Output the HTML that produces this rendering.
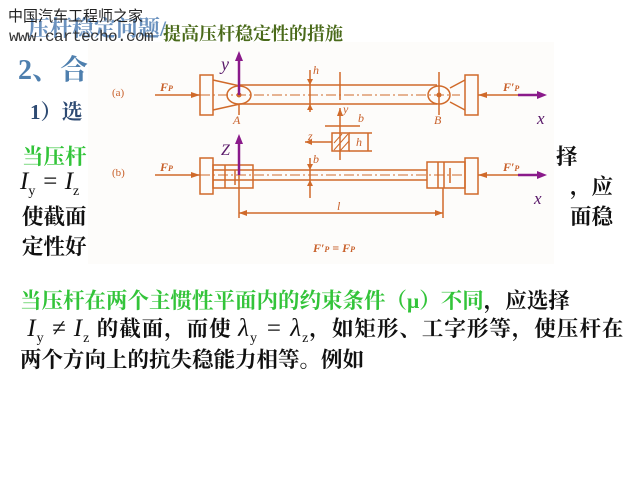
<!DOCTYPE html>
<html><head><meta charset="utf-8"><style>
body{margin:0;width:640px;height:480px;background:#fff;position:relative;overflow:hidden;font-family:"Liberation Serif","Noto Serif CJK SC",serif}
.t{position:absolute;white-space:nowrap;font-weight:bold;color:#111}
.g{color:#33c43a}
.m{font-family:"Liberation Serif",serif;font-style:italic;font-weight:normal}
sub{font-size:14px;font-style:normal}
</style></head><body>
<div class="t" style="left:28px;top:12px;font-size:22px;color:#5a86b8;opacity:.9">压杆稳定问题/</div>
<div class="t" style="left:163px;top:20px;font-size:18px;color:#4a6a1a">提高压杆稳定性的措施</div>
<div class="t" style="left:8px;top:5px;font-size:15px;color:#222;font-family:'Noto Sans CJK SC',sans-serif;font-weight:normal">中国汽车工程师之家</div>
<div class="t" style="left:9px;top:28px;font-size:16px;color:#333;font-family:'Liberation Mono',monospace;font-weight:normal;letter-spacing:-0.6px">www.cartecho.com</div>
<div class="t" style="left:18px;top:48px;font-size:28px;color:#4e7fae">2、合</div>
<div class="t" style="left:30px;top:96px;font-size:21px;color:#2d4a72">1）选</div>

<div class="t g" style="left:22px;top:140px;font-size:21.5px">当压杆</div>
<div class="t m" style="left:20px;top:168px;font-size:25px;color:#111">I<sub>y</sub> = I<sub>z</sub></div>
<div class="t" style="left:22px;top:200px;font-size:21.5px">使截面</div>
<div class="t" style="left:22px;top:230px;font-size:21.5px">定性好</div>
<div class="t" style="left:556px;top:140px;font-size:21.5px">择</div>
<div class="t" style="left:570px;top:170px;font-size:21.5px">，应</div>
<div class="t" style="left:570px;top:200px;font-size:21.5px">面稳</div>

<svg style="position:absolute;left:88px;top:42px" width="466" height="222" viewBox="88 42 466 222">
<rect x="88" y="42" width="466" height="222" fill="#fdfcfa"/>
<g stroke="#d06a2a" stroke-width="1.5" fill="none">
<rect x="200" y="75" width="13" height="40"/>
<path d="M213 80 L240 86 M213 110 L240 104"/>
<ellipse cx="239" cy="95" rx="12" ry="9"/>
<line x1="240" y1="85" x2="437" y2="85"/><line x1="240" y1="104" x2="437" y2="104"/>
<line x1="200" y1="95" x2="460" y2="95" stroke-dasharray="10,3,2,3" stroke-width="1"/>
<ellipse cx="439" cy="95" rx="11" ry="9"/>
<path d="M450 88 L465 80 M450 102 L465 110"/>
<rect x="465" y="75" width="13" height="40"/>
<line x1="155" y1="95" x2="200" y2="95"/>
<line x1="478" y1="95" x2="520" y2="95"/>
<line x1="239" y1="104" x2="239" y2="115"/><line x1="439" y1="72" x2="439" y2="115"/>
<line x1="310" y1="70" x2="310" y2="112"/><line x1="340" y1="72" x2="340" y2="100"/>
<rect x="332" y="133" width="17" height="18"/>
<path d="M334 143l8-9M334 150l14-16M340 151l9-10" stroke-width="1"/>
<line x1="340" y1="108" x2="340" y2="160"/>
<line x1="305" y1="142" x2="332" y2="142"/>
<line x1="325" y1="126" x2="360" y2="126"/>
<line x1="349" y1="133" x2="372" y2="133"/><line x1="349" y1="151" x2="372" y2="151"/>
<line x1="368" y1="133" x2="368" y2="151"/>
<rect x="200" y="158" width="13" height="36"/>
<rect x="213" y="165" width="40" height="23"/>
<line x1="225" y1="165" x2="225" y2="188"/><line x1="235" y1="170" x2="235" y2="185"/>
<line x1="253" y1="170" x2="427" y2="170"/><line x1="253" y1="180" x2="427" y2="180"/>
<line x1="213" y1="170" x2="253" y2="170"/><line x1="213" y1="180" x2="253" y2="180"/>
<line x1="200" y1="175" x2="465" y2="175" stroke-dasharray="10,3,2,3" stroke-width="1"/>
<rect x="427" y="162" width="38" height="26"/>
<line x1="438" y1="162" x2="438" y2="188"/><line x1="444" y1="162" x2="444" y2="188"/><line x1="450" y1="168" x2="450" y2="183"/>
<rect x="465" y="158" width="13" height="36"/>
<line x1="155" y1="175" x2="200" y2="175"/>
<line x1="478" y1="175" x2="520" y2="175"/>
<line x1="310" y1="158" x2="310" y2="198"/>
<line x1="239" y1="170" x2="239" y2="218"/><line x1="443" y1="188" x2="443" y2="218"/>
<line x1="239" y1="213" x2="443" y2="213"/>
</g>
<g fill="#d06a2a">
<path d="M200 95l-9-3v6z M478 95l9-3v6z M200 175l-9-3v6z M478 175l9-3v6z M239 213l8-3v6z M443 213l-8-3v6z M340 108l-3 8h6z M305 142l7-3v6z M310 85l-3-6h6z M310 104l-3 6h6z M310 170l-3-6h6z M310 180l-3 6h6z"/>
<circle cx="239" cy="95" r="2.5"/><circle cx="439" cy="95" r="2.5"/>
</g>
<g stroke="#8a1a8a" stroke-width="2.5"><line x1="239" y1="95" x2="239" y2="58"/><line x1="239" y1="175" x2="239" y2="140"/><line x1="518" y1="95" x2="540" y2="95"/><line x1="518" y1="175" x2="540" y2="175"/></g>
<g fill="#8a1a8a"><path d="M239 51l-4 10h8z M239 134l-4 10h8z M547 95l-10-4v8z M547 175l-10-4v8z"/></g>
<g font-family="Liberation Serif,serif" font-style="italic">
<text x="221" y="70" font-size="18" fill="#5a1a6a">y</text>
<text x="221" y="155" font-size="16" fill="#5a1a6a">Z</text>
<text x="537" y="124" font-size="17" fill="#5a1a6a">x</text>
<text x="534" y="204" font-size="17" fill="#5a1a6a">x</text>
<g fill="#c8602a" font-size="12" font-weight="bold">
<text x="160" y="91">F<tspan font-size="8">P</tspan></text>
<text x="160" y="171">F<tspan font-size="8">P</tspan></text>
<text x="503" y="91">F′<tspan font-size="8">P</tspan></text>
<text x="503" y="171">F′<tspan font-size="8">P</tspan></text>
<text x="313" y="252">F′<tspan font-size="8">P</tspan> = F<tspan font-size="8">P</tspan></text>
</g>
<g fill="#c8602a" font-size="12">
<text x="233" y="124">A</text><text x="434" y="124">B</text>
<text x="343" y="113">y</text><text x="358" y="122">b</text>
<text x="313" y="74">h</text><text x="313" y="163">b</text>
<text x="337" y="210">l</text><text x="356" y="146">h</text><text x="308" y="140">z</text>
</g>
</g>
<text x="112" y="96" font-size="11" fill="#c8602a" font-family="Liberation Serif,serif">(a)</text>
<text x="112" y="176" font-size="11" fill="#c8602a" font-family="Liberation Serif,serif">(b)</text>
</svg>

<div class="t" style="left:20px;top:284px;font-size:21.5px"><span class="g">当压杆在两个主惯性平面内的约束条件（μ）不同</span>，应选择</div>
<div class="t" style="left:20px;top:312px;font-size:21.5px;letter-spacing:1px"><span class="m" style="font-size:25px">&nbsp;I<sub>y</sub> ≠ I<sub>z</sub></span> 的截面，而使 <span class="m" style="font-size:25px">λ<sub>y</sub> = λ<sub>z</sub></span>，如矩形、工字形等，使压杆在</div>
<div class="t" style="left:20px;top:343px;font-size:21.5px">两个方向上的抗失稳能力相等。例如</div>
</body></html>
